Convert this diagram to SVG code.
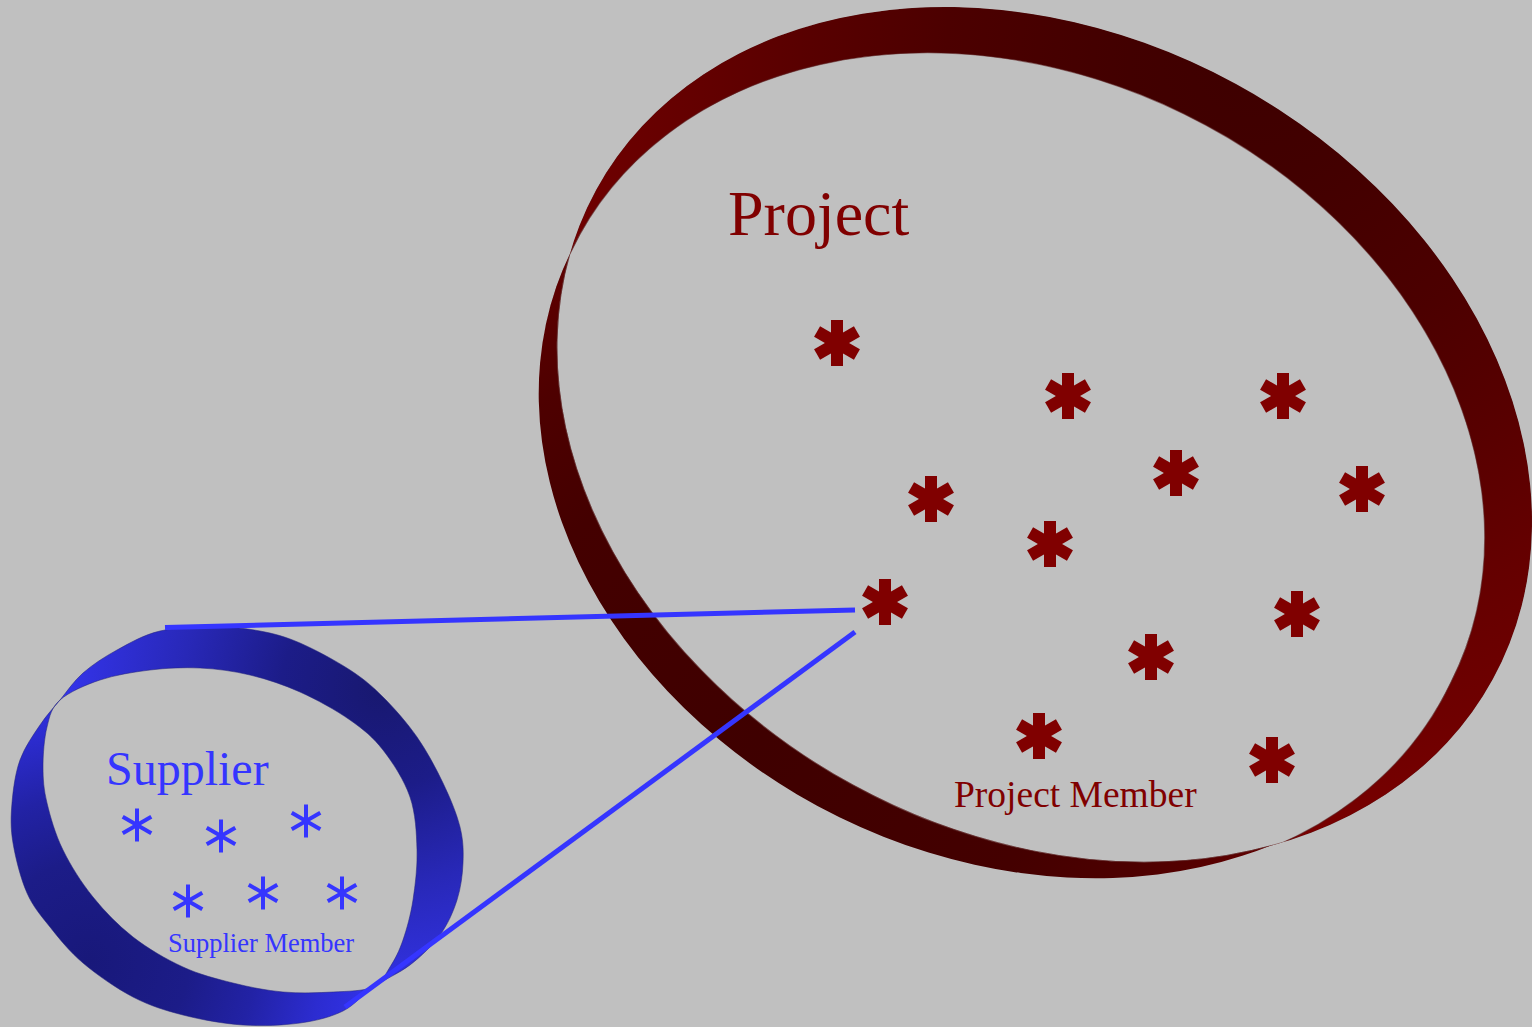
<svg xmlns="http://www.w3.org/2000/svg" width="1532" height="1027" viewBox="0 0 1532 1027">
  <style>
    .label { font-family: "Liberation Serif", "Times New Roman", serif; }
    .red { fill: #800000; }
    .blue { fill: #3535ff; }
    .link { stroke: #3535ff; stroke-width: 5; fill: none; stroke-linecap: butt; }
    .starline { stroke: #3535ff; stroke-width: 4; fill: none; }
    .rimRed { stroke: #5a1f1f; stroke-opacity: 0.55; stroke-width: 1.2; }
    .rimBlue { stroke: #262680; stroke-opacity: 0.55; stroke-width: 1; }
  </style>
  <defs>
    <!-- shading of the two visible faces of each ring -->
    <radialGradient id="projBack" gradientUnits="userSpaceOnUse" cx="1250" cy="60" r="800">
      <stop offset="0" stop-color="#3e0000"/>
      <stop offset="0.15" stop-color="#420000"/>
      <stop offset="0.38" stop-color="#4c0000"/>
      <stop offset="0.55" stop-color="#580000"/>
      <stop offset="0.7" stop-color="#640000"/>
      <stop offset="0.85" stop-color="#6e0000"/>
      <stop offset="1" stop-color="#7a0000"/>
    </radialGradient>
    <radialGradient id="projFront" gradientUnits="userSpaceOnUse" cx="760" cy="740" r="620">
      <stop offset="0" stop-color="#3f0000"/>
      <stop offset="0.45" stop-color="#440000"/>
      <stop offset="0.65" stop-color="#4e0000"/>
      <stop offset="0.8" stop-color="#5c0000"/>
      <stop offset="1" stop-color="#6c0000"/>
    </radialGradient>
    <radialGradient id="supBack" gradientUnits="userSpaceOnUse" cx="380" cy="690" r="330">
      <stop offset="0" stop-color="#181870"/>
      <stop offset="0.3" stop-color="#1c1c88"/>
      <stop offset="0.6" stop-color="#2828b8"/>
      <stop offset="1" stop-color="#3535f0"/>
    </radialGradient>
    <radialGradient id="supFront" gradientUnits="userSpaceOnUse" cx="90" cy="960" r="330">
      <stop offset="0" stop-color="#18187a"/>
      <stop offset="0.3" stop-color="#1c1c88"/>
      <stop offset="0.5" stop-color="#2222a5"/>
      <stop offset="0.7" stop-color="#2c2cd0"/>
      <stop offset="0.9" stop-color="#3434ee"/>
      <stop offset="1" stop-color="#3838f5"/>
    </radialGradient>

    <!-- the project ring is the band between its two rims (two ellipses) -->
    <clipPath id="projRimBack">
      <ellipse cx="1044.5" cy="434.5" rx="510.8" ry="399.4" transform="rotate(28.6 1044.5 434.5)"/>
    </clipPath>
    <clipPath id="projRimFront">
      <ellipse cx="1011" cy="467" rx="490" ry="390" transform="rotate(26.1 1011 467)"/>
    </clipPath>
    <path id="projBand" fill-rule="evenodd" d="M 1493,679 A 510.8 399.4 28.6 1 1 596,190 A 510.8 399.4 28.6 1 1 1493,679 Z M 1451,682.6 A 490 390 26.1 1 1 571,251.4 A 490 390 26.1 1 1 1451,682.6 Z"/>

    <!-- supplier ring halves split at the twist points -->
    <clipPath id="supBackClip"><polygon points="-566,126 999,1561 999,-300 -566,-300"/></clipPath>
    <clipPath id="supFrontClip"><polygon points="-566,126 999,1561 -566,1561"/></clipPath>
    <path id="supBand" fill-rule="evenodd" d="M 60,700
      C 67.2,691.3 73.5,681.3 83,673
      C 92.5,664.7 104.2,657 117,650
      C 129.8,643 143.7,634.8 160,631
      C 176.3,627.2 198.3,627 215,627
      C 231.7,627 245.8,628.3 260,631
      C 274.2,633.7 285,636.5 300,643
      C 315,649.5 336.2,661 350,670
      C 363.8,679 371.8,685.8 383,697
      C 394.2,708.2 407,722.7 417,737
      C 427,751.3 435.8,768 443,783
      C 450.2,798 456.7,813.7 460,827
      C 463.3,840.3 463.5,850.8 463,863
      C 462.5,875.2 460.8,888 457,900
      C 453.2,912 447.8,924.2 440,935
      C 432.2,945.8 421.2,956.3 410,965
      C 398.8,973.7 384.2,979.3 373,987
      C 361.8,994.7 355.2,1005 343,1011
      C 330.8,1017 316.7,1020.7 300,1023
      C 283.3,1025.3 262.5,1026.3 243,1025
      C 223.5,1023.7 201.3,1019.7 183,1015
      C 164.7,1010.3 149.7,1005.7 133,997
      C 116.3,988.3 96.8,974.7 83,963
      C 69.2,951.3 59.3,938.7 50,927
      C 40.7,915.3 33.2,907 27,893
      C 20.8,879 15.5,858 13,843
      C 10.5,828 10.8,816.8 12,803
      C 13.2,789.2 15.3,773 20,760
      C 24.7,747 33.3,735 40,725
      C 46.7,715 52.8,708.7 60,700 Z
      M 60,700
      C 68.8,692.2 85,685 100,680
      C 115,675 133.3,672 150,670
      C 166.7,668 183.3,667.2 200,668
      C 216.7,668.8 233.3,671 250,675
      C 266.7,679 283.3,684.5 300,692
      C 316.7,699.5 336.2,710.3 350,720
      C 363.8,729.7 373,737.2 383,750
      C 393,762.8 404.3,780.3 410,797
      C 415.7,813.7 416.5,832.8 417,850
      C 417.5,867.2 415.3,885 413,900
      C 410.7,915 406.8,928.8 403,940
      C 399.2,951.2 395,959.2 390,967
      C 385,974.8 382.5,982.8 373,987
      C 363.5,991.2 348,991.2 333,992
      C 318,992.8 299.7,993.5 283,992
      C 266.3,990.5 249.7,987.2 233,983
      C 216.3,978.8 199.7,974.7 183,967
      C 166.3,959.3 148,948.7 133,937
      C 118,925.3 104.7,911.5 93,897
      C 81.3,882.5 70.7,865.7 63,850
      C 55.3,834.3 50.3,816.8 47,803
      C 43.7,789.2 43,779.7 43,767
      C 43,754.3 44.2,738.2 47,727
      C 49.8,715.8 51.2,707.8 60,700 Z"/>

    <!-- member markers -->
    <g id="projMember">
      <rect x="-6" y="-23" width="12" height="46"/>
      <rect x="-6" y="-23" width="12" height="46" transform="rotate(60)"/>
      <rect x="-6" y="-23" width="12" height="46" transform="rotate(120)"/>
    </g>
    <g id="supMember">
      <line x1="0" y1="-16.5" x2="0" y2="16.5"/>
      <line x1="0" y1="-16.5" x2="0" y2="16.5" transform="rotate(60)"/>
      <line x1="0" y1="-16.5" x2="0" y2="16.5" transform="rotate(120)"/>
    </g>
  </defs>

  <rect width="1532" height="1027" fill="#c0c0c0"/>

  <!-- Project container -->
  <g id="project">
    <use href="#projBand" fill="url(#projBack)" clip-path="url(#projRimBack)" class="rimRed"/>
    <use href="#projBand" fill="url(#projFront)" clip-path="url(#projRimFront)" class="rimRed"/>
    <text class="label red" x="728" y="235" font-size="64">Project</text>
  </g>

  <!-- Project members -->
  <g id="project-members" class="red">
    <use href="#projMember" x="837" y="343"/>
    <use href="#projMember" x="1068" y="396"/>
    <use href="#projMember" x="1283" y="396"/>
    <use href="#projMember" x="1176" y="473"/>
    <use href="#projMember" x="1362" y="489"/>
    <use href="#projMember" x="931" y="499"/>
    <use href="#projMember" x="1050" y="544"/>
    <use href="#projMember" x="885" y="602"/>
    <use href="#projMember" x="1297" y="614"/>
    <use href="#projMember" x="1151" y="657"/>
    <use href="#projMember" x="1039" y="736"/>
    <use href="#projMember" x="1272" y="760"/>
    <text class="label red" x="954" y="807" font-size="37.5">Project Member</text>
  </g>

  <!-- Supplier container -->
  <g id="supplier">
    <use href="#supBand" fill="url(#supBack)" clip-path="url(#supBackClip)" class="rimBlue"/>
    <use href="#supBand" fill="url(#supFront)" clip-path="url(#supFrontClip)" class="rimBlue"/>
    <text class="label blue" x="106" y="785" font-size="48">Supplier</text>
  </g>

  <!-- Supplier members -->
  <g id="supplier-members">
    <g class="starline">
      <use href="#supMember" x="137" y="825"/>
      <use href="#supMember" x="221" y="836"/>
      <use href="#supMember" x="306" y="821"/>
      <use href="#supMember" x="188" y="901"/>
      <use href="#supMember" x="263" y="893"/>
      <use href="#supMember" x="342" y="893"/>
    </g>
    <text class="label blue" x="168" y="952" font-size="26.5">Supplier Member</text>
  </g>

  <!-- zoom connectors from the supplier ring to one project member -->
  <g id="connectors">
    <line class="link" x1="165" y1="627.5" x2="855" y2="610"/>
    <line class="link" x1="855" y1="632" x2="345" y2="1007"/>
  </g>
</svg>
